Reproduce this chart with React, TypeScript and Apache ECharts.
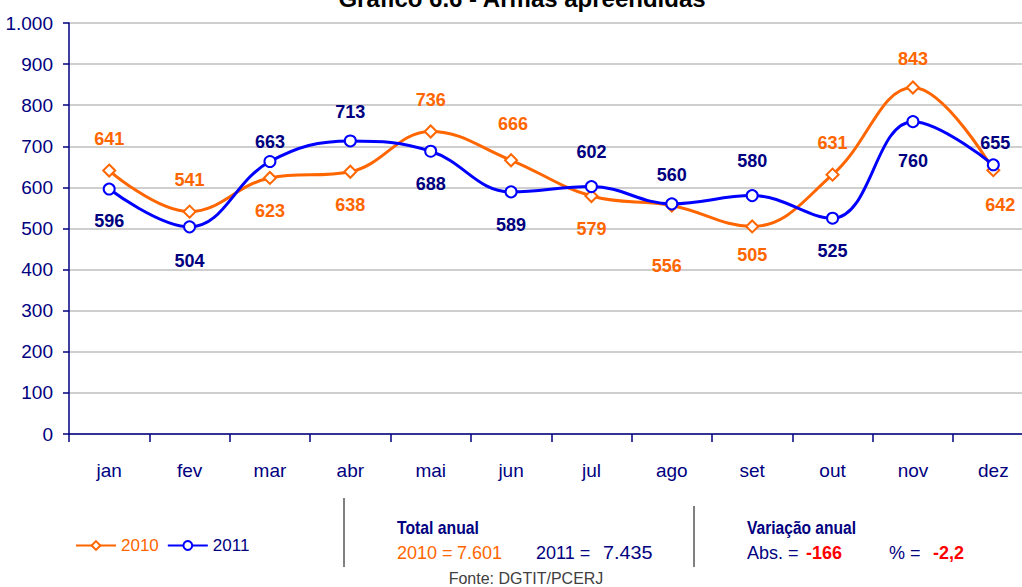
import React, { useEffect, useRef } from "react";
import * as echarts from "echarts";

const months = ["jan", "fev", "mar", "abr", "mai", "jun", "jul", "ago", "set", "out", "nov", "dez"];
const values2010 = [641, 541, 623, 638, 736, 666, 579, 556, 505, 631, 843, 642];
const values2011 = [596, 504, 663, 713, 688, 589, 602, 560, 580, 525, 760, 655];
// vertical offset of each value label from its point (px)
const labelDy2010 = [-32, -32, 33, 33, -32, -36, 33, 61, 29, -32, -29, 35];
const labelDx2010 = [0, 0, 0, 0, 0, 2, 0, -5, 0, 0, 0, 7];
const labelDy2011 = [32, 34, -20, -29, 33, 33, -35, -29, -35, 33, 39, -22];
const labelDx2011 = [0, 0, 0, 0, 0, 0, 0, 0, 0, 0, 0, 2];
const yTicks = { min: 0, max: 1000, interval: 100 };

const FONT = '"Liberation Sans", Arial, sans-serif';
const ORANGE = "#FF6600";
const BLUE = "#0000FF";
const NAVY = "#000080";

function makeData(vals: number[], dx: number[], dy: number[], color: string) {
  return vals.map((v, i) => ({
    value: v,
    label: {
      show: true,
      position: "inside",
      offset: [dx[i], dy[i]],
      color,
      fontFamily: FONT,
      fontWeight: "bold",
      fontSize: 18,
    },
  }));
}

export default function App() {
  const ref = useRef<HTMLDivElement>(null);
  useEffect(() => {
    if (!ref.current) return;
    const chart = echarts.init(ref.current, null, { renderer: "svg" });
    const txt = (text: string, x: number, y: number, fill: string, opts: any = {}) => ({
      type: "text",
      x,
      y,
      scaleX: opts.sx || 1,
      style: {
        text,
        fill,
        fontFamily: FONT,
        fontSize: opts.size || 18,
        fontWeight: opts.bold ? "bold" : "normal",
        textAlign: opts.align || "left",
        textVerticalAlign: "middle",
      },
    });
    chart.setOption({
      animation: false,
      backgroundColor: "#fff",
      grid: {
        left: 69,
        right: -11.5,
        top: 23,
        bottom: 153,
        containLabel: false,
        outerBoundsMode: "none",
      },
      xAxis: {
        type: "category",
        data: months,
        boundaryGap: true,
        axisLine: { lineStyle: { color: NAVY, width: 1.5 } },
        axisTick: { show: true, length: 8, lineStyle: { color: NAVY, width: 1.5 } },
        axisLabel: { color: NAVY, fontFamily: FONT, fontSize: 19, margin: 27 },
        splitLine: { show: false },
      },
      yAxis: {
        type: "value",
        min: yTicks.min,
        max: yTicks.max,
        interval: yTicks.interval,
        axisLine: { show: true, lineStyle: { color: NAVY, width: 1.5 } },
        axisTick: { show: true, length: 6, lineStyle: { color: NAVY, width: 1.5 } },
        axisLabel: {
          color: NAVY,
          fontFamily: FONT,
          fontSize: 19,
          margin: 16,
          formatter: (v: number) => v.toString().replace(/\B(?=(\d{3})+(?!\d))/g, "."),
        },
        splitLine: { show: true, lineStyle: { color: "#BFBFBF", width: 1.5 } },
      },
      legend: {
        left: 70,
        top: 532,
        itemWidth: 40,
        itemHeight: 11,
        itemGap: 8,
        textStyle: { fontFamily: FONT, fontSize: 17 },
        data: [
          { name: "2010", textStyle: { color: ORANGE } },
          { name: "2011", textStyle: { color: NAVY } },
        ],
      },
      series: [
        {
          name: "2010",
          type: "line",
          smooth: 0.4,
          symbol: "emptyDiamond",
          symbolSize: [12, 12],
          color: ORANGE,
          lineStyle: { color: ORANGE, width: 3 },
          itemStyle: { color: ORANGE, borderWidth: 1.5 },
          data: makeData(values2010, labelDx2010, labelDy2010, ORANGE),
          z: 2,
        },
        {
          name: "2011",
          type: "line",
          smooth: 0.4,
          symbol: "emptyCircle",
          symbolSize: 11,
          color: BLUE,
          lineStyle: { color: BLUE, width: 3 },
          itemStyle: { color: BLUE, borderWidth: 1.5 },
          data: makeData(values2011, labelDx2011, labelDy2011, NAVY),
          z: 3,
        },
      ],
      graphic: [
        {
          type: "text",
          x: 522,
          y: 10,
          style: {
            text: "Gráfico 6.6 - Armas apreendidas",
            fill: "#000",
            fontFamily: FONT,
            fontWeight: "bold",
            fontSize: 24,
            textAlign: "center",
            textVerticalAlign: "bottom",
          },
        },
        { type: "line", shape: { x1: 344, y1: 498, x2: 344, y2: 567 }, style: { stroke: "#808080", lineWidth: 2 } },
        { type: "line", shape: { x1: 694, y1: 506, x2: 694, y2: 567 }, style: { stroke: "#808080", lineWidth: 2 } },
        txt("Total anual", 397, 527, NAVY, { bold: true, size: 19, sx: 0.83 }),
        txt("2010 =", 397, 553, ORANGE),
        txt("7.601", 457, 553, ORANGE),
        txt("2011 =", 536, 553, NAVY),
        txt("7.435", 603, 553, NAVY, { sx: 1.1 }),
        txt("Variação anual", 747, 527, NAVY, { bold: true, size: 19, sx: 0.82 }),
        txt("Abs. =", 747, 553, NAVY),
        txt("-166", 806, 553, "#FF0000", { bold: true }),
        txt("% =", 889, 553, NAVY),
        txt("-2,2", 933, 553, "#FF0000", { bold: true }),
        txt("Fonte: DGTIT/PCERJ", 526, 578, "#404040", { size: 16, align: "center" }),
      ],
    });
    return () => chart.dispose();
  }, []);
  return (
    <div
      ref={ref}
      style={{ position: "absolute", left: 0, top: 0, width: 1022, height: 587 }}
    />
  );
}
